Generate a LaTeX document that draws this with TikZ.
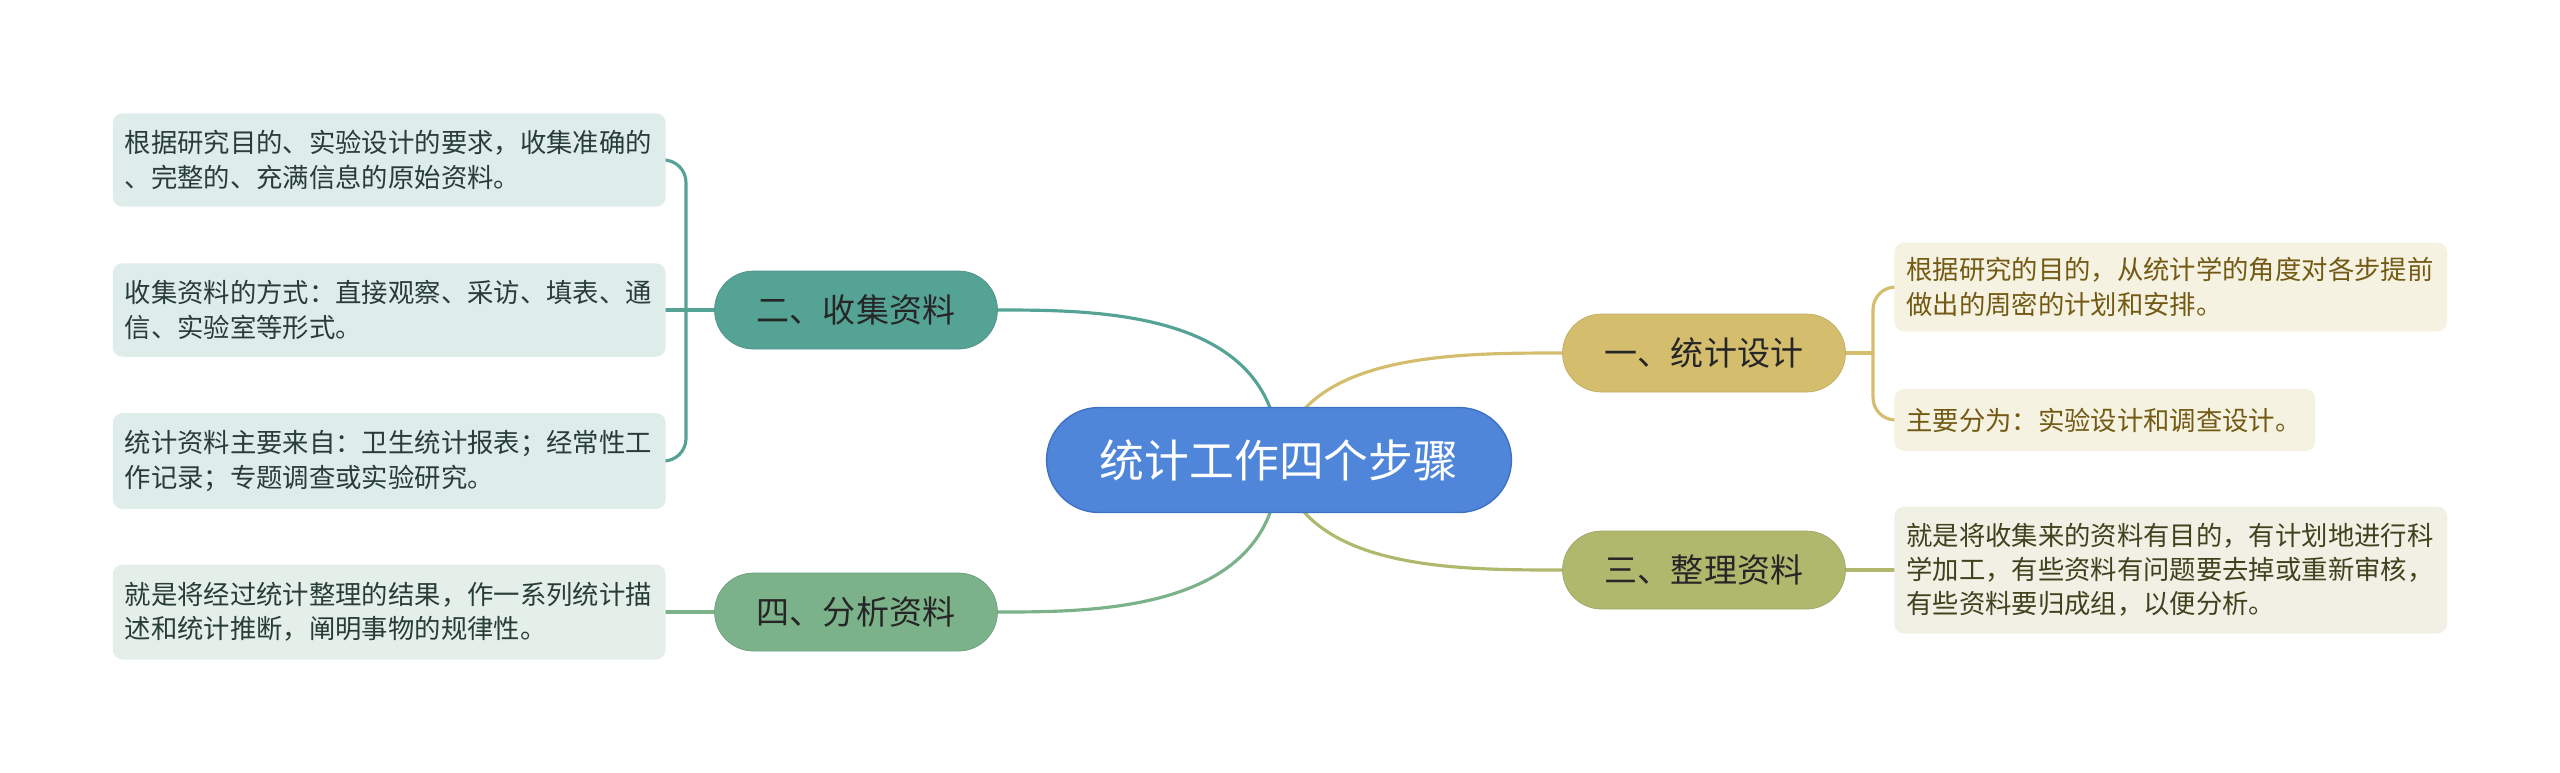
\documentclass[tikz,border=0pt]{standalone}
\usepackage{fontspec}
\newfontfamily\cjk{Noto Sans CJK SC}
\usetikzlibrary{calc,backgrounds}
\definecolor{rootblue}{RGB}{79,134,217}
\definecolor{rootline}{RGB}{62,112,196}
\definecolor{tealB}{RGB}{84,163,149}
\definecolor{greenB}{RGB}{123,178,138}
\definecolor{goldB}{RGB}{212,190,110}
\definecolor{oliveB}{RGB}{176,184,110}
\definecolor{tealL}{RGB}{222,236,234}
\definecolor{greenL}{RGB}{227,239,232}
\definecolor{goldL}{RGB}{246,242,225}
\definecolor{oliveL}{RGB}{240,240,228}
\definecolor{tealT}{RGB}{40,60,56}
\definecolor{goldT}{RGB}{115,90,20}
\definecolor{oliveT}{RGB}{65,65,30}
\tikzset{
  mroot/.style ={rectangle, rounded corners=1.05cm, draw=rootline, fill=rootblue,
                 line width=0.8pt, minimum width=9.3cm, minimum height=2.1cm,
                 text=white, font=\cjk\fontsize{25.5}{30}\selectfont},
  mtopic/.style={rectangle, rounded corners=0.78cm, minimum width=5.66cm,
                 minimum height=1.56cm, text=black!85,
                 font=\cjk\fontsize{18.8}{22}\selectfont},
  mnote/.style ={rectangle, rounded corners=0.2cm, align=left, inner xsep=0.24cm,
                 inner ysep=0.25cm, font=\cjk\fontsize{15}{19.5}\selectfont},
  mline/.style ={line width=1.8pt, line cap=round},
}
\begin{document}
\begin{tikzpicture}[x=0.02cm, y=-0.02cm]
\useasboundingbox (0,0) rectangle (2560,772);
% centre and the four steps
\node[mroot] (root) at (1279,460) {统计工作四个步骤};
\node[mtopic, fill=tealB, draw=tealB!90!black] (collect) at (856,310) {二、收集资料};
\node[mtopic, fill=greenB, draw=greenB!90!black] (analyse) at (856,612) {四、分析资料};
\node[mtopic, fill=goldB, draw=goldB!90!black] (design) at (1704,353) {一、统计设计};
\node[mtopic, fill=oliveB, draw=oliveB!90!black] (arrange) at (1704,570) {三、整理资料};
% notes, left side
\node[mnote, fill=tealL, text=tealT, anchor=east, text width=10.58cm, minimum height=1.87cm]
  (c1) at (666,160) {根据研究目的、实验设计的要求，收集准确的\\、完整的、充满信息的原始资料。};
\node[mnote, fill=tealL, text=tealT, anchor=east, text width=10.58cm, minimum height=1.87cm]
  (c2) at (666,310) {收集资料的方式：直接观察、采访、填表、通\\信、实验室等形式。};
\node[mnote, fill=tealL, text=tealT, anchor=east, text width=10.58cm, minimum height=1.92cm]
  (c3) at (666,461) {统计资料主要来自：卫生统计报表；经常性工\\作记录；专题调查或实验研究。};
\node[mnote, fill=greenL, text=tealT, anchor=east, text width=10.58cm, minimum height=1.9cm]
  (a1) at (666,612) {就是将经过统计整理的结果，作一系列统计描\\述和统计推断，阐明事物的规律性。};
% notes, right side
\node[mnote, fill=goldL, text=goldT, anchor=west, text width=10.58cm, minimum height=1.78cm]
  (d1) at (1894,287) {根据研究的目的，从统计学的角度对各步提前\\做出的周密的计划和安排。};
\node[mnote, fill=goldL, text=goldT, anchor=west, text width=7.94cm, minimum height=1.24cm]
  (d2) at (1894,420) {主要分为：实验设计和调查设计。};
\node[mnote, fill=oliveL, text=oliveT, anchor=west, text width=10.58cm, minimum height=2.54cm]
  (r1) at (1894,570) {就是将收集来的资料有目的，有计划地进行科\\学加工，有些资料有问题要去掉或重新审核，\\有些资料要归成组，以便分析。};
\coordinate (cbr) at (686,310);
\coordinate (dbr) at (1873,353);
\begin{scope}[on background layer]
\draw[mline, tealB] (root.center) .. controls (root.center |- collect.east) and ($(collect.east)+(100,0)$) .. (collect.east);
\draw[mline, greenB] (root.center) .. controls (root.center |- analyse.east) and ($(analyse.east)+(100,0)$) .. (analyse.east);
\draw[mline, goldB] (root.center) .. controls ($(root.center |- design.west)+(20,0)$) and ($(design.west)+(-110,0)$) .. (design.west);
\draw[mline, oliveB] (root.center) .. controls ($(root.center |- arrange.west)+(20,0)$) and ($(arrange.west)+(-110,0)$) .. (arrange.west);
\draw[mline, tealB] (collect.west) -- (c2.east);
\draw[mline, tealB, rounded corners=0.45cm] (c1.east) -- (c1.east -| cbr) -- (c3.east -| cbr) -- (c3.east);
\draw[mline, greenB] (analyse.west) -- (a1.east);
\draw[mline, goldB] (design.east) -- (dbr);
\draw[mline, goldB, rounded corners=0.45cm] (d1.west) -- (d1.west -| dbr) -- (d2.west -| dbr) -- (d2.west);
\draw[mline, oliveB] (arrange.east) -- (r1.west);
\end{scope}
\end{tikzpicture}
\end{document}
